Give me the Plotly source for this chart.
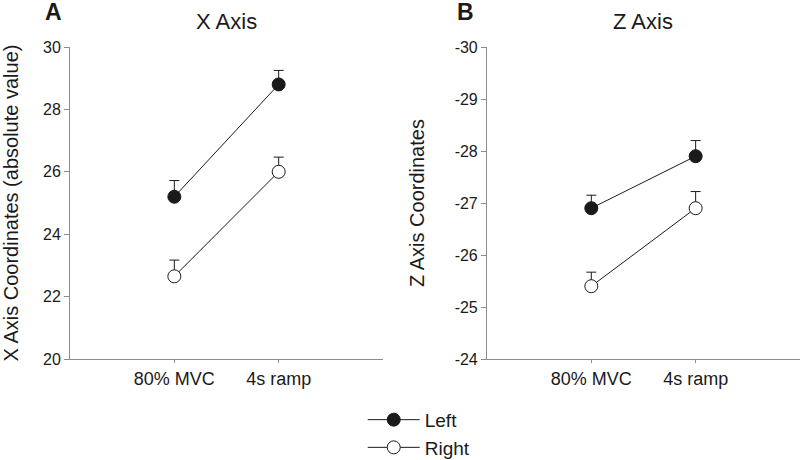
import plotly.graph_objects as go

categories = ["80% MVC", "4s ramp"]

x_left = [25.2, 28.8]
x_left_err = [0.52, 0.45]
x_right = [22.65, 26.0]
x_right_err = [0.52, 0.47]

z_left = [-26.9, -27.9]
z_left_err = [0.25, 0.3]
z_right = [-25.4, -26.9]
z_right_err = [0.27, 0.32]

x_ticks = [20, 22, 24, 26, 28, 30]
z_ticks = [-24, -25, -26, -27, -28, -29, -30]
z_tick_text = ["-24", "-25", "-26", "-27", "-28", "-29", "-30"]

FONT = "Liberation Sans, Arial, sans-serif"
INK = "#1a1a1a"
AXIS = "#8c8c8c"

fig = go.Figure()


def series(x, y, err, name, fill, xa, ya, show, minus=False):
    zeros = [0] * len(err)
    ey = dict(type="data", symmetric=False,
              array=zeros if minus else err, arrayminus=err if minus else zeros,
              color=INK, thickness=1, width=5)
    return go.Scatter(
        x=x, y=y, name=name, mode="lines+markers",
        line=dict(color=INK, width=1),
        marker=dict(symbol="circle", size=13, color=fill, line=dict(color=INK, width=1)),
        error_y=ey, xaxis=xa, yaxis=ya, showlegend=show,
    )


fig.add_trace(series(categories, x_left, x_left_err, "Left", INK, "x", "y", True))
fig.add_trace(series(categories, x_right, x_right_err, "Right", "white", "x", "y", True))
fig.add_trace(series(categories, z_left, z_left_err, "Left", INK, "x2", "y2", False, minus=True))
fig.add_trace(series(categories, z_right, z_right_err, "Right", "white", "x2", "y2", False, minus=True))

xcommon = dict(
    type="category", range=[-1, 2], showgrid=False, zeroline=False,
    showline=True, linecolor=AXIS, linewidth=1,
    ticks="outside", ticklen=3, tickcolor=AXIS,
    tickfont=dict(size=18, color=INK, family=FONT),
)
ycommon = dict(
    showgrid=False, zeroline=False, showline=True, linecolor=AXIS, linewidth=1,
    ticks="outside", ticklen=5, tickcolor=AXIS,
    tickfont=dict(size=16, color=INK, family=FONT),
    title_font=dict(size=20, color=INK, family=FONT),
)

fig.update_layout(
    width=800, height=460,
    plot_bgcolor="white", paper_bgcolor="white",
    margin=dict(l=70, r=0, t=47, b=101, autoexpand=False),
    font=dict(family=FONT, color=INK),
    xaxis=dict(domain=[0, 0.4288], anchor="y", **xcommon),
    xaxis2=dict(domain=[0.5712, 1], anchor="y2", **xcommon),
    yaxis=dict(range=[20, 30], tickvals=x_ticks, anchor="x",
               title=dict(text="X Axis Coordinates (absolute value)", standoff=22), **ycommon),
    yaxis2=dict(range=[-24, -30], tickvals=z_ticks, ticktext=z_tick_text, anchor="x2",
                title=dict(text="Z Axis Coordinates", standoff=24), **ycommon),
    legend=dict(x=0.401, y=-0.134, xanchor="left", yanchor="top", itemwidth=52,
                font=dict(size=19, color=INK, family=FONT), bgcolor="rgba(0,0,0,0)"),
    annotations=[
        dict(text="X Axis", xref="x domain", yref="paper", x=0.5, y=1.035,
             showarrow=False, font=dict(size=22, color=INK, family=FONT), yanchor="bottom"),
        dict(text="Z Axis", xref="x2 domain", yref="paper", x=0.5, y=1.035,
             showarrow=False, font=dict(size=22, color=INK, family=FONT), yanchor="bottom"),
        dict(text="<b>A</b>", xref="paper", yref="paper", x=-0.037, y=1.16,
             showarrow=False, font=dict(size=23, color=INK, family=FONT), xanchor="left"),
        dict(text="<b>B</b>", xref="paper", yref="paper", x=0.5275, y=1.16,
             showarrow=False, font=dict(size=23, color=INK, family=FONT), xanchor="left"),
    ],
)

fig.write_html("out.html", config={"displayModeBar": False},
               post_script="document.body.style.margin='0';")
